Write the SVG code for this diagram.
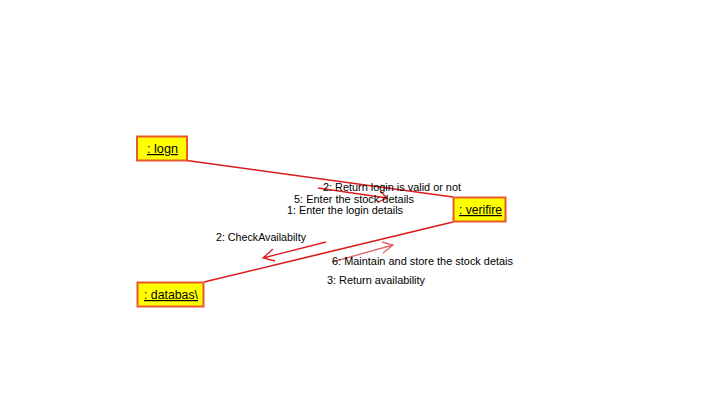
<svg xmlns="http://www.w3.org/2000/svg" width="724" height="408" viewBox="0 0 724 408">
  <style>
    .obj rect { fill: #ffff00; stroke: #e8582a; stroke-width: 2; }
    .obj text { font-family: "Liberation Sans", "DejaVu Sans", sans-serif; font-size: 12px; fill: #000; text-decoration: underline; }
    .link { stroke: #dc1c1c; stroke-width: 1.6; fill: none; }
    .msg { stroke: #dc1c1c; stroke-width: 1.3; fill: none; }
    .msg2 { stroke: #e06868; stroke-width: 1.3; fill: none; }
    .lbl { font-family: "Liberation Sans", "DejaVu Sans", sans-serif; font-size: 11px; fill: #000; }
  </style>
  <rect width="724" height="408" fill="#ffffff"/>

  <g id="connectors">
    <!-- association links between objects -->
    <line class="link" x1="187" y1="160.5" x2="453" y2="197"/>
    <line class="link" x1="204" y1="282" x2="453" y2="222"/>
    <!-- message arrows -->
    <path class="msg" d="M318 188 L387 198 M380 191 L387 198 L378 202"/>
    <path class="msg" d="M326 242 L263 258 M273 249 L263 258 L275 261"/>
    <path class="msg2" d="M332 262 L393 245 M382 242 L393 245 L383 253"/>
  </g>

  <g id="labels">
    <text class="lbl" x="323" y="191" textLength="138" lengthAdjust="spacingAndGlyphs">2: Return login is valid or not</text>
    <text class="lbl" x="294" y="202.5" textLength="120" lengthAdjust="spacingAndGlyphs">5: Enter the stock details</text>
    <text class="lbl" x="287" y="214" textLength="116" lengthAdjust="spacingAndGlyphs">1: Enter the login details</text>
    <text class="lbl" x="216" y="241" textLength="90" lengthAdjust="spacingAndGlyphs">2: CheckAvailabilty</text>
    <text class="lbl" x="332" y="264.5" textLength="181" lengthAdjust="spacingAndGlyphs">6: Maintain and store the stock detais</text>
    <text class="lbl" x="327" y="284" textLength="98" lengthAdjust="spacingAndGlyphs">3: Return availability</text>
  </g>

  <g id="logn" class="obj">
    <rect x="137" y="136.5" width="50" height="24"/>
    <text x="147" y="153" textLength="31" lengthAdjust="spacingAndGlyphs">: logn</text>
  </g>

  <g id="verifire" class="obj">
    <rect x="453.5" y="197.5" width="52" height="24"/>
    <text x="459" y="214" textLength="43" lengthAdjust="spacingAndGlyphs">: verifire</text>
  </g>

  <g id="databas" class="obj">
    <rect x="137.5" y="282.5" width="66" height="24"/>
    <text x="144" y="299" textLength="54" lengthAdjust="spacingAndGlyphs">: databas\</text>
  </g>
</svg>
